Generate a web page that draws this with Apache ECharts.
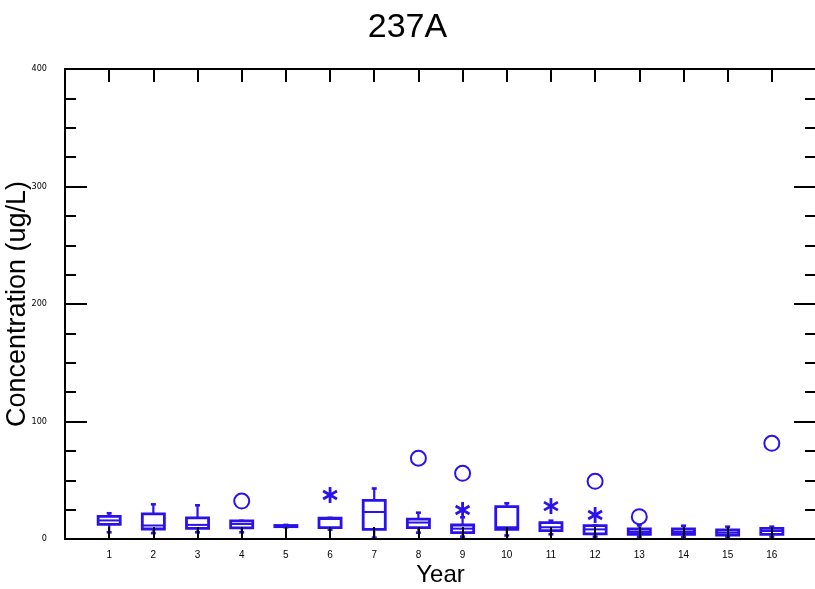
<!DOCTYPE html>
<html>
<head>
<meta charset="utf-8">
<script src="https://cdn.jsdelivr.net/npm/echarts@6/dist/echarts.min.js"></script>
<style>
html,body{margin:0;padding:0;background:#fff;}
#chart{width:815px;height:589px;}
</style>
</head>
<body>
<div id="chart"></div>
<script>
// ---- data ----
var years   = ['1','2','3','4','5','6','7','8','9','10','11','12','13','14','15','16'];
var mins    = [5.7, 5.0, 5.7, 5.7, 10.0, 8.0, 1.1, 5.4, 2.0, 3.0, 4.0, 2.0, 2.0, 2.0, 2.0, 2.0];
var q1s     = [12.5, 8.5, 9.1, 9.5, 10.5, 9.6, 8.2, 9.6, 5.4, 8.2, 7.1, 4.3, 4.0, 4.0, 3.4, 4.0];
var medians = [15.8, 11.5, 12.0, 12.8, 11.0, 17.0, 23.0, 14.0, 8.8, 10.0, 10.0, 8.2, 6.0, 6.0, 5.5, 6.8];
var q3s     = [19.3, 21.3, 17.9, 15.5, 11.5, 17.8, 32.9, 17.0, 11.9, 27.5, 13.9, 11.3, 8.5, 8.5, 7.7, 9.1];
var maxs    = [21.9, 29.5, 28.7, 15.5, 12.0, 18.0, 43.0, 22.4, 18.5, 30.4, 15.6, 11.5, 11.7, 11.3, 10.5, 10.5];
var circleOutliers = [[4, 32.3], [8, 68.7], [9, 55.9], [12, 49.1], [13, 19.0], [16, 81.4]];
var starOutliers   = [[6, 37.4], [9, 24.7], [11, 28.0], [12, 20.4]];
var yTicks = [0, 100, 200, 300, 400];

var BLUE = '#2b12ec';
var boxData = years.map(function (y, i) {
  return [Number(y), mins[i], q1s[i], medians[i], q3s[i], maxs[i]];
});

var chart = echarts.init(document.getElementById('chart'), null, {renderer: 'canvas'});

function renderBox(params, api) {
  var x = api.value(0);
  var pMin = api.coord([x, api.value(1)]);
  var pQ1 = api.coord([x, api.value(2)]);
  var pMed = api.coord([x, api.value(3)]);
  var pQ3 = api.coord([x, api.value(4)]);
  var pMax = api.coord([x, api.value(5)]);
  var band = api.size([1, 0])[0];
  var hw = band * 0.25;
  var cap = 2.5;
  var cx = pMed[0];
  return {
    type: 'group',
    children: [
      {type: 'line', shape: {x1: cx, y1: pQ3[1], x2: cx, y2: pMax[1]}, style: {stroke: BLUE, lineWidth: 2.2}},
      {type: 'line', shape: {x1: cx, y1: pQ1[1], x2: cx, y2: pMin[1]}, style: {stroke: BLUE, lineWidth: 2.2}},
      {type: 'line', shape: {x1: cx - cap, y1: pMax[1], x2: cx + cap, y2: pMax[1]}, style: {stroke: BLUE, lineWidth: 2.6}},
      {type: 'line', shape: {x1: cx - cap, y1: pMin[1], x2: cx + cap, y2: pMin[1]}, style: {stroke: BLUE, lineWidth: 2.6}},
      {type: 'rect', shape: {x: cx - hw, y: pQ3[1], width: 2 * hw, height: pQ1[1] - pQ3[1]}, style: {stroke: BLUE, lineWidth: 2.8, fill: '#fff'}},
      {type: 'line', shape: {x1: cx - hw, y1: pMed[1], x2: cx + hw, y2: pMed[1]}, style: {stroke: BLUE, lineWidth: 2}}
    ]
  };
}

function renderStar(params, api) {
  var p = api.coord([api.value(0), api.value(1)]);
  var r = 8;
  var children = [];
  [90, 30, 150].forEach(function (deg) {
    var a = deg * Math.PI / 180;
    var dx = r * Math.cos(a), dy = r * Math.sin(a);
    children.push({type: 'line', shape: {x1: p[0] - dx, y1: p[1] - dy, x2: p[0] + dx, y2: p[1] + dy},
      style: {stroke: BLUE, lineWidth: 2.8}});
  });
  return {type: 'group', children: children};
}

var axisLineStyle = {color: '#000', width: 2};
var labelFont = "'Liberation Sans Narrow', 'DejaVu Sans Condensed', 'Liberation Sans', Arial, sans-serif";

var option = {
  backgroundColor: '#fff',
  animation: false,
  title: {
    text: '237A', left: 'center', top: 6,
    textStyle: {fontFamily: "'Liberation Sans', Arial, sans-serif", fontSize: 34, fontWeight: 'normal', color: '#000'}
  },
  grid: {left: 65, right: -1, top: 69, bottom: 50, containLabel: false, outerBoundsMode: 'none'},
  xAxis: [{
    type: 'value', min: 0, max: 17, interval: 1, position: 'bottom', z: 10,
    name: 'Year', nameLocation: 'middle', nameGap: 24, nameMoveOverlap: false,
    nameTextStyle: {fontFamily: "'Liberation Sans', Arial, sans-serif", fontSize: 24, color: '#000'},
    axisLine: {show: true, onZero: false, lineStyle: axisLineStyle},
    axisTick: {show: true, inside: true, length: 12, lineStyle: {color: '#000', width: 2}},
    axisLabel: {
      margin: 11, fontSize: 10, color: '#000', fontFamily: "'Liberation Sans', Arial, sans-serif",
      formatter: function (v) { return (v >= 1 && v <= years.length) ? years[v - 1] : ''; }
    },
    splitLine: {show: false}
  }, {
    type: 'value', min: 0, max: 17, interval: 1, position: 'top', z: 10,
    axisLine: {show: true, onZero: false, lineStyle: axisLineStyle},
    axisTick: {show: true, inside: true, length: 13, lineStyle: {color: '#000', width: 2}},
    axisLabel: {show: false},
    splitLine: {show: false}
  }],
  yAxis: [{
    type: 'value', min: yTicks[0], max: yTicks[yTicks.length - 1], interval: 100, position: 'left',
    name: 'Concentration (ug/L)', nameLocation: 'middle', nameGap: 34, nameMoveOverlap: false,
    nameTextStyle: {fontFamily: "'Liberation Sans', Arial, sans-serif", fontSize: 27, color: '#000'},
    axisLine: {show: true, onZero: false, lineStyle: axisLineStyle},
    axisTick: {show: true, inside: true, length: 22, lineStyle: {color: '#000', width: 2}},
    minorTick: {show: true, splitNumber: 4, length: 11, lineStyle: {color: '#000', width: 2}},
    axisLabel: {margin: 18, fontSize: 9, color: '#000', fontFamily: labelFont},
    splitLine: {show: false}
  }, {
    type: 'value', min: yTicks[0], max: yTicks[yTicks.length - 1], interval: 100, position: 'right',
    axisLine: {show: false, onZero: false, lineStyle: axisLineStyle},
    axisTick: {show: true, inside: true, length: 22, lineStyle: {color: '#000', width: 2}},
    minorTick: {show: true, splitNumber: 4, length: 11, lineStyle: {color: '#000', width: 2}},
    axisLabel: {show: false},
    splitLine: {show: false}
  }],
  series: [{
    type: 'custom', name: 'box', xAxisIndex: 0, yAxisIndex: 0,
    renderItem: renderBox, data: boxData, z: 3, clip: false
  }, {
    type: 'scatter', name: 'outlier', xAxisIndex: 0, yAxisIndex: 0,
    symbol: 'emptyCircle', symbolSize: 15, data: circleOutliers,
    itemStyle: {color: BLUE, borderColor: BLUE, borderWidth: 2.6, opacity: 1}, z: 4
  }, {
    type: 'custom', name: 'far outlier', xAxisIndex: 0, yAxisIndex: 0,
    renderItem: renderStar, data: starOutliers, z: 4
  }]
};
chart.setOption(option);
</script>
</body>
</html>
